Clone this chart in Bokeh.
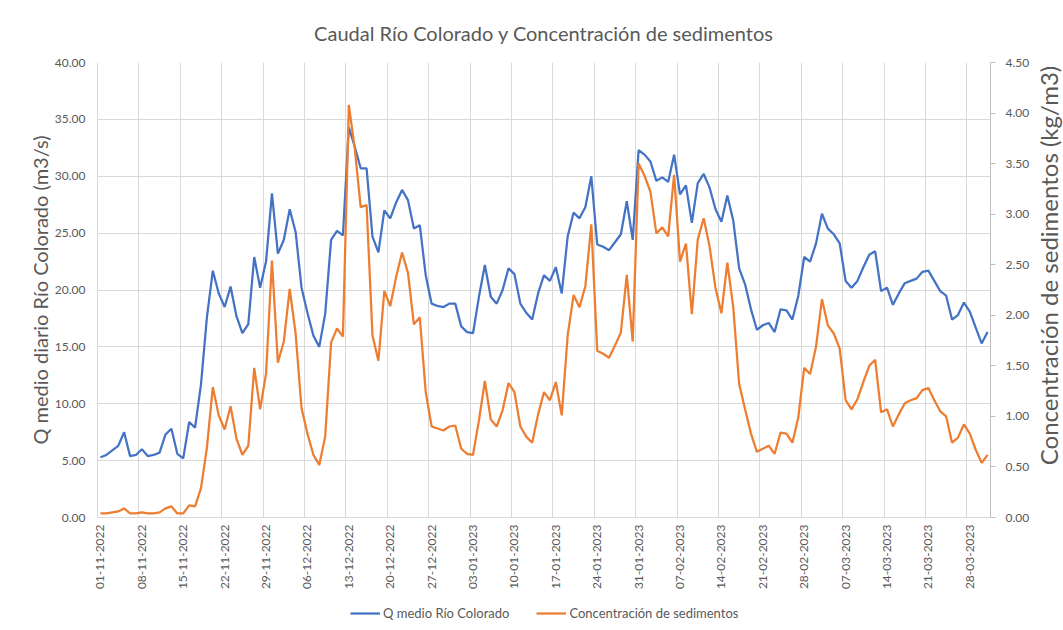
import math
import pandas as pd
from bokeh.plotting import figure
from bokeh.layouts import row, column
from bokeh.models import (Range1d, LinearAxis, FixedTicker, NumeralTickFormatter,
                          DatetimeTickFormatter, Legend, LegendItem, ColumnDataSource, Label)
from bokeh.embed import file_html
from bokeh.resources import INLINE

# ---------------- data ----------------
start_date = "2022-11-01"
end_date = "2023-03-31"

caudal = [5.3, 5.5, 5.9, 6.3, 7.5, 5.4, 5.5, 6.0, 5.4, 5.5,
          5.7, 7.3, 7.8, 5.6, 5.2, 8.4, 7.9, 11.7, 17.6, 21.7,
          19.7, 18.5, 20.3, 17.7, 16.2, 17.0, 22.9, 20.2, 22.5, 28.5,
          23.2, 24.4, 27.1, 25.1, 20.2, 18.0, 16.0, 15.0, 17.9, 24.4,
          25.2, 24.8, 34.3, 32.6, 30.7, 30.7, 24.7, 23.3, 27.0, 26.3,
          27.7, 28.8, 27.9, 25.4, 25.7, 21.3, 18.8, 18.6, 18.5, 18.8,
          18.8, 16.8, 16.3, 16.2, 19.4, 22.2, 19.4, 18.8, 20.0, 21.9,
          21.4, 18.8, 18.0, 17.4, 19.7, 21.3, 20.8, 22.0, 19.7, 24.7,
          26.8, 26.3, 27.3, 30.0, 24.0, 23.8, 23.5, 24.2, 24.9, 27.8,
          24.4, 32.3, 31.9, 31.3, 29.6, 29.9, 29.5, 31.9, 28.4, 29.2,
          25.9, 29.4, 30.2, 29.0, 27.1, 26.0, 28.3, 26.1, 21.9, 20.5,
          18.3, 16.5, 16.9, 17.1, 16.3, 18.3, 18.2, 17.4, 19.5, 22.9,
          22.5, 24.1, 26.7, 25.4, 24.9, 24.1, 20.8, 20.2, 20.8, 22.0,
          23.1, 23.4, 19.9, 20.2, 18.7, 19.7, 20.6, 20.8, 21.0, 21.6,
          21.7, 20.8, 19.9, 19.5, 17.4, 17.8, 18.9, 18.1, 16.7, 15.3,
          16.3]

sedimentos = [0.04, 0.04, 0.05, 0.06, 0.09, 0.04, 0.04, 0.05, 0.04, 0.04,
              0.05, 0.09, 0.11, 0.04, 0.04, 0.12, 0.11, 0.29, 0.69, 1.29,
              1.01, 0.87, 1.10, 0.78, 0.62, 0.71, 1.48, 1.07, 1.42, 2.54,
              1.53, 1.74, 2.26, 1.82, 1.08, 0.83, 0.62, 0.52, 0.80, 1.73,
              1.87, 1.79, 4.08, 3.65, 3.07, 3.09, 1.80, 1.55, 2.24, 2.09,
              2.38, 2.62, 2.42, 1.91, 1.98, 1.24, 0.90, 0.88, 0.86, 0.90,
              0.91, 0.68, 0.63, 0.62, 0.96, 1.35, 0.97, 0.90, 1.06, 1.33,
              1.24, 0.90, 0.80, 0.74, 1.02, 1.24, 1.16, 1.34, 1.01, 1.80,
              2.20, 2.08, 2.29, 2.90, 1.65, 1.62, 1.58, 1.70, 1.83, 2.40,
              1.74, 3.50, 3.38, 3.22, 2.81, 2.87, 2.78, 3.39, 2.53, 2.71,
              2.01, 2.75, 2.96, 2.68, 2.27, 2.02, 2.52, 2.08, 1.32, 1.07,
              0.83, 0.65, 0.68, 0.71, 0.63, 0.84, 0.83, 0.74, 0.99, 1.48,
              1.42, 1.69, 2.16, 1.90, 1.82, 1.67, 1.16, 1.07, 1.17, 1.34,
              1.50, 1.56, 1.04, 1.07, 0.90, 1.02, 1.13, 1.16, 1.18, 1.26,
              1.28, 1.16, 1.05, 1.00, 0.74, 0.79, 0.92, 0.83, 0.67, 0.54,
              0.62]

left_ticks = [0, 5, 10, 15, 20, 25, 30, 35, 40]
right_ticks = [0, 0.5, 1.0, 1.5, 2.0, 2.5, 3.0, 3.5, 4.0, 4.5]

title_text = "Caudal Río Colorado y Concentración de sedimentos"
left_title = "Q medio diario Río Colorado (m3/s)"
right_title = "Concentración de sedimentos (kg/m3)"
label_q = "Q medio Río Colorado"
label_s = "Concentración de sedimentos"

# ---------------- layout constants (pixels) ----------------
FRAME_W, FRAME_H = 893, 455
BORDER_L, BORDER_R, BORDER_T, BORDER_B = 97, 45, 62, 80
MAIN_H = BORDER_T + FRAME_H + BORDER_B            # 597
STRIP_W = 1063 - (BORDER_L + FRAME_W + BORDER_R)  # 28
LEGEND_H = 630 - MAIN_H                            # 33

FONT = "Lato"
GREY = "#595959"
GRID = "#d9d9d9"
BLUE = "#4472C4"
ORANGE = "#ED7D31"

# ---------------- main chart ----------------
dates = pd.date_range(start_date, end_date, freq="D")
src = ColumnDataSource(dict(date=dates, q=caudal, s=sedimentos))

half_day = pd.Timedelta(hours=12)
tick_dates = pd.date_range(start_date, end_date, freq="7D")
tick_ms = [d.value / 1e6 for d in tick_dates]
grid_ms = [(d - half_day).value / 1e6 for d in tick_dates]

p = figure(frame_width=FRAME_W, frame_height=FRAME_H, x_axis_type="datetime",
           x_range=Range1d(dates[0] - half_day, dates[-1] + half_day),
           y_range=Range1d(0, 40),
           output_backend="svg", toolbar_location=None,
           min_border_left=BORDER_L, min_border_right=BORDER_R,
           min_border_top=BORDER_T, min_border_bottom=BORDER_B)
p.extra_y_ranges = {"sed": Range1d(0, 4.5)}
p.outline_line_color = None

p.title.text = title_text
p.title.align = "center"
p.title.text_font = FONT
p.title.text_font_size = "20px"
p.title.text_font_style = "normal"
p.title.text_color = GREY
p.title.standoff = 36

xa = p.xaxis[0]
xa.ticker = FixedTicker(ticks=tick_ms)
fmt = "%d-%m-%Y"
xa.formatter = DatetimeTickFormatter(days=fmt, months=fmt, years=fmt, hours=fmt,
                                     hourmin=fmt, minutes=fmt, minsec=fmt,
                                     seconds=fmt, milliseconds=fmt, microseconds=fmt)
xa.major_label_orientation = math.pi / 2
xa.major_label_text_font = FONT
xa.major_label_text_font_size = "12px"
xa.major_label_text_color = GREY
xa.major_label_standoff = 7
xa.major_tick_out = 0
xa.major_tick_line_color = None
xa.minor_tick_line_color = None
xa.axis_line_color = GRID

p.xgrid.ticker = FixedTicker(ticks=grid_ms)
p.xgrid.grid_line_color = GRID
p.ygrid.grid_line_color = GRID

ya = p.yaxis[0]
ya.ticker = FixedTicker(ticks=left_ticks)
ya.formatter = NumeralTickFormatter(format="0.00")
ya.major_label_text_font = FONT
ya.major_label_text_font_size = "12px"
ya.major_label_text_color = GREY
ya.major_label_standoff = 12
ya.major_tick_out = 0
ya.major_tick_line_color = None
ya.minor_tick_line_color = None
ya.axis_line_color = GRID
ya.axis_label = left_title
ya.axis_label_text_font = FONT
ya.axis_label_text_font_size = "20px"
ya.axis_label_text_font_style = "normal"
ya.axis_label_text_color = GREY
ya.axis_label_standoff = 0

ra = LinearAxis(y_range_name="sed", ticker=FixedTicker(ticks=right_ticks),
                formatter=NumeralTickFormatter(format="0.00"))
ra.major_label_text_font = FONT
ra.major_label_text_font_size = "12px"
ra.major_label_text_color = GREY
ra.major_label_standoff = 10
ra.major_tick_line_color = "#bfbfbf"
ra.major_tick_out = 5
ra.major_tick_in = 0
ra.minor_tick_line_color = None
ra.axis_line_color = "#bfbfbf"
p.add_layout(ra, "right")

p.line(x="date", y="q", source=src, line_color=BLUE, line_width=2.25)
p.line(x="date", y="s", source=src, line_color=ORANGE, line_width=2.25,
       y_range_name="sed")

# ---------------- right strip: secondary axis title (bottom-to-top) ----------------
strip = figure(frame_width=STRIP_W, frame_height=MAIN_H, x_range=Range1d(0, STRIP_W),
               y_range=Range1d(0, MAIN_H), title=None,
               output_backend="svg", toolbar_location=None,
               x_axis_location=None, y_axis_location=None, min_border=0)
strip.outline_line_color = None
strip.grid.visible = False
strip.add_layout(Label(x=13, y=MAIN_H - 251 + 48, text=right_title, angle=math.pi / 2,
                       text_align="center", text_baseline="middle",
                       text_font=FONT, text_font_size="24px", text_color=GREY))

# ---------------- legend strip ----------------
# the same series are drawn here outside the visible range, only to feed the legend
leg = figure(frame_width=1063, frame_height=LEGEND_H, x_range=Range1d(0, 1),
             y_range=Range1d(0, 1), title=None,
             output_backend="svg", toolbar_location=None,
             x_axis_location=None, y_axis_location=None, min_border=0)
leg.outline_line_color = None
leg.grid.visible = False
lq = leg.line(x="date", y="q", source=src, line_color=BLUE, line_width=2.25)
ls = leg.line(x="date", y="s", source=src, line_color=ORANGE, line_width=2.25)
legend = Legend(items=[LegendItem(label=label_q, renderers=[lq]),
                       LegendItem(label=label_s, renderers=[ls])],
                orientation="horizontal", location=(350, 9),
                border_line_color=None, background_fill_alpha=0,
                label_text_font=FONT, label_text_font_size="13px",
                label_text_color=GREY, glyph_width=30, glyph_height=16,
                label_height=16, label_standoff=3, spacing=27, padding=0, margin=0)
leg.add_layout(legend)

layout = column(row(p, strip, spacing=0), leg, spacing=0)
open("out.html", "w").write(file_html(layout, INLINE))
